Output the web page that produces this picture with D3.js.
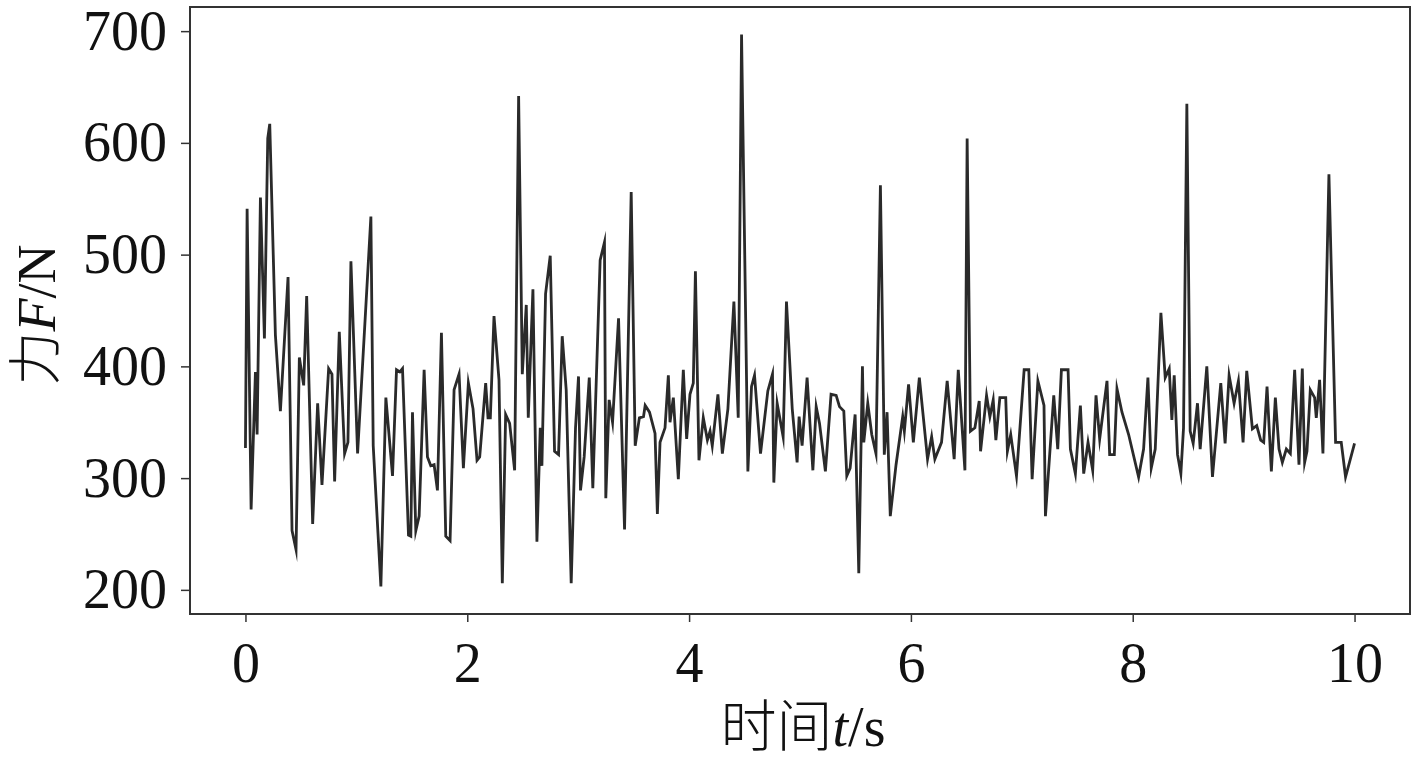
<!DOCTYPE html>
<html><head><meta charset="utf-8">
<script src="https://cdn.jsdelivr.net/npm/d3@7"></script>
<style>
html,body{margin:0;padding:0;background:#fff;}
svg{display:block;}
</style></head>
<body>
<svg id="chart" width="1417" height="763"></svg>
<script>
const timeS = [0.00,0.015,0.051,0.09,0.105,0.135,0.171,0.201,0.219,0.27,0.315,0.384,0.42,0.456,0.486,0.525,0.552,0.606,0.651,0.69,0.75,0.78,0.804,0.846,0.894,0.924,0.951,
1.011,1.131,1.152,1.221,1.266,1.326,1.362,1.392,1.416,1.47,1.491,1.506,1.536,1.566,1.611,1.641,1.671,1.701,1.731,1.767,1.806,1.845,1.881,1.926,1.965,
2.01,2.052,2.088,2.112,2.166,2.187,2.208,2.241,2.286,2.316,2.346,2.382,2.427,2.463,2.496,2.532,2.55,2.592,2.628,2.658,2.673,2.706,2.748,2.787,2.823,2.856,2.892,2.937,2.976,
3.003,3.021,3.054,3.10,3.132,3.198,3.237,3.249,3.279,3.31,3.364,3.418,3.478,3.514,3.552,3.589,3.604,3.643,3.693,3.714,3.738,3.783,3.813,3.828,3.858,3.903,3.948,3.978,
4.008,4.038,4.057,4.089,4.128,4.165,4.189,4.209,4.26,4.30,4.35,4.404,4.443,4.473,4.53,4.563,4.59,4.644,4.71,4.752,4.764,4.794,4.848,4.878,4.93,4.974,4.992,
5.019,5.064,5.116,5.146,5.176,5.229,5.28,5.326,5.356,5.395,5.422,5.452,5.497,5.53,5.563,5.575,5.611,5.647,5.685,5.725,5.76,5.785,5.814,5.866,5.926,5.941,5.979,
6.022,6.076,6.15,6.187,6.216,6.276,6.327,6.39,6.427,6.487,6.507,6.537,6.577,6.616,6.628,6.682,6.712,6.742,6.766,6.802,6.855,6.87,6.9,6.952,
7.021,7.063,7.093,7.145,7.20,7.213,7.288,7.324,7.357,7.417,7.438,7.483,7.528,7.558,7.597,7.639,7.669,7.702,7.768,7.792,7.834,7.858,7.903,7.963,
8.053,8.098,8.137,8.167,8.203,8.254,8.293,8.329,8.353,8.374,8.404,8.434,8.458,8.488,8.518,8.545,8.584,8.608,8.668,8.719,8.794,8.833,8.869,8.914,8.953,8.995,
9.028,9.079,9.118,9.154,9.181,9.211,9.25,9.286,9.319,9.349,9.385,9.421,9.46,9.499,9.529,9.55,9.571,9.601,9.64,9.655,9.685,9.715,9.769,9.829,9.88,9.919,10.0];

const forceN = [327,541,272,395,339,551,425,604,617,428,360,480,253,236,408,383,463,259,367,294,398,393,297,431,322,332,494,
322,534,329,203,372,302,397,395,398,249,248,359,253,266,397,319,311,312,289,430,248,244,379,393,309,
385,362,316,319,385,354,354,445,388,206,357,349,307,642,393,455,354,469,243,345,311,465,499,324,321,427,379,206,345,
391,289,319,390,291,495,511,282,370,350,443,254,556,329,354,355,365,359,340,268,332,345,392,350,372,299,397,335,
375,385,485,316,354,334,342,329,375,322,362,458,354,697,306,382,392,322,378,393,296,367,337,458,362,314,355,
329,390,307,364,349,306,375,374,364,360,302,309,357,215,400,332,367,339,322,562,321,359,266,312,355,342,384,
332,390,317,337,317,332,387,317,397,307,604,342,345,369,324,374,355,370,334,372,372,324,339,302,
397,397,299,387,365,266,374,326,397,397,326,304,365,304,332,307,374,335,387,321,321,380,359,339,
301,326,390,309,326,448,390,398,352,392,321,304,345,635,342,331,367,326,400,301,385,331,392,367,387,332,
396,344,347,334,332,382,306,372,326,314,326,322,397,312,398,314,324,379,372,354,388,322,572,332,332,301,331];

const xTicks = [0,2,4,6,8,10];
const yTicks = [200,300,400,500,600,700];

const svg = d3.select("#chart");
const L = 190, R = 1410, T = 7, B = 614;
const x = d3.scaleLinear().domain([-0.5, 10.5]).range([L, R]);
const y = d3.scaleLinear().domain([178.4, 721.6]).range([B, T]);

const serif = "'Liberation Serif','Times New Roman',serif";
const cjk = "'Noto Sans CJK SC',sans-serif";

const data = timeS.map((t,i)=>({t, f: forceN[i]}));
svg.append("path")
  .datum(data)
  .attr("fill","none")
  .attr("stroke","#2a2a2a")
  .attr("stroke-width",2.8)
  .attr("stroke-linejoin","miter")
  .attr("stroke-miterlimit",10)
  .attr("d", d3.line().x(d=>x(d.t)).y(d=>y(d.f)));

svg.append("rect").attr("x",L).attr("y",T).attr("width",R-L).attr("height",B-T)
  .attr("fill","none").attr("stroke","#333").attr("stroke-width",2);

const xAxis = d3.axisBottom(x).tickValues(xTicks).tickSize(8).tickPadding(20).tickFormat(d3.format("d"));
const gx = svg.append("g").attr("transform",`translate(0,${B})`).call(xAxis);
gx.select(".domain").remove();
gx.selectAll(".tick line").attr("stroke","#333").attr("stroke-width",1.5);
gx.selectAll(".tick text").attr("font-family",serif).attr("font-size",56).attr("fill","#111");

const yAxis = d3.axisLeft(y).tickValues(yTicks).tickSize(9).tickPadding(14).tickFormat(d3.format("d"));
const gy = svg.append("g").attr("transform",`translate(${L},0)`).call(yAxis);
gy.select(".domain").remove();
gy.selectAll(".tick line").attr("stroke","#333").attr("stroke-width",1.5);
gy.selectAll(".tick text").attr("font-family",serif).attr("font-size",56).attr("fill","#111");

const xt = svg.append("text").attr("x",803).attr("y",746).attr("text-anchor","middle")
  .attr("font-size",56).attr("fill","#111");
xt.append("tspan").attr("font-family",cjk).attr("font-weight",300).text("时间");
xt.append("tspan").attr("font-family",serif).attr("font-style","italic").text("t");
xt.append("tspan").attr("font-family",serif).text("/s");

const yt = svg.append("text").attr("transform","translate(55,315) rotate(-90)").attr("text-anchor","middle")
  .attr("font-size",54).attr("fill","#111");
yt.append("tspan").attr("font-family",cjk).attr("font-weight",300).text("力");
yt.append("tspan").attr("font-family",serif).attr("font-style","italic").text("F");
yt.append("tspan").attr("font-family",serif).text("/N");
</script>
</body></html>
